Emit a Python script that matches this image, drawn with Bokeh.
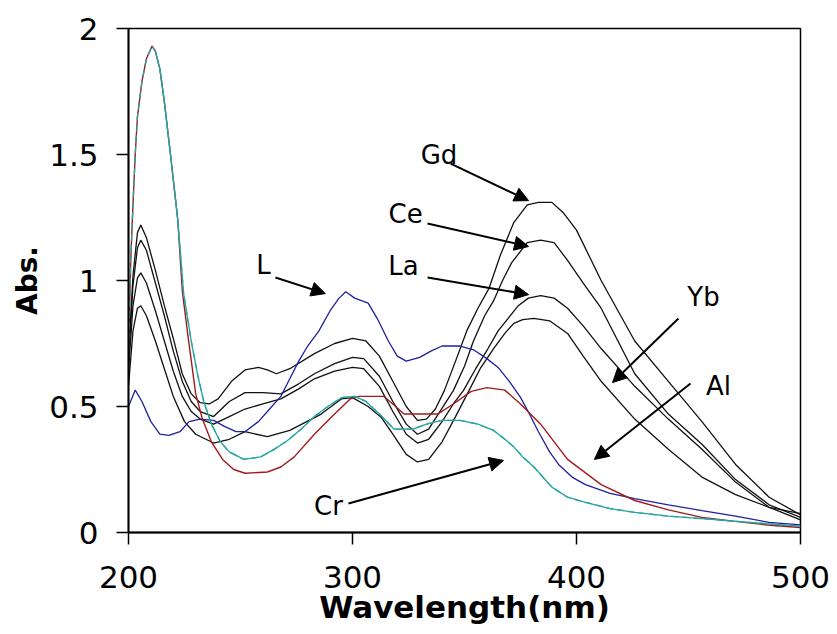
from bokeh.plotting import figure
from bokeh.models import Arrow, NormalHead, Label, FixedTicker
from bokeh.embed import file_html
from bokeh.resources import INLINE

# ---------------- data ----------------
gd_wl = [200, 202, 204, 205.5, 208, 212, 216, 220, 224, 228, 232, 236, 240, 246, 252, 258, 262, 266, 272, 283,
         292, 300, 306, 312, 318, 324, 329, 333, 337, 341, 346, 351, 356, 361, 366, 372, 378, 383, 389, 394,
         400, 411, 426, 441, 456, 471, 486, 500]
gd_abs = [0.70, 1.02, 1.19, 1.22, 1.17, 1.04, 0.90, 0.77, 0.63, 0.55, 0.515, 0.51, 0.53, 0.60, 0.645, 0.655, 0.645,
          0.63, 0.65, 0.71, 0.75, 0.77, 0.76, 0.70, 0.60, 0.50, 0.445, 0.45, 0.49, 0.563, 0.68, 0.80, 0.89, 0.97,
          1.10, 1.23, 1.30, 1.31, 1.31, 1.27, 1.20, 1.00, 0.76, 0.60, 0.44, 0.27, 0.14, 0.07]

ce_wl = [200, 202, 204, 205.5, 208, 212, 216, 220, 224, 228, 232, 238, 245, 252, 260, 268, 276, 283, 292, 300,
         305, 312, 318, 324, 329, 334, 339, 345, 350, 354, 359, 363, 367, 371, 378, 384, 390, 396, 403, 411,
         426, 441, 456, 471, 486, 500]
ce_abs = [0.68, 0.98, 1.13, 1.16, 1.12, 0.99, 0.86, 0.72, 0.60, 0.52, 0.48, 0.46, 0.52, 0.555, 0.555, 0.55, 0.59,
          0.63, 0.67, 0.695, 0.69, 0.62, 0.52, 0.43, 0.39, 0.41, 0.48, 0.563, 0.66, 0.76, 0.86, 0.92, 1.00, 1.07,
          1.15, 1.16, 1.15, 1.08, 0.99, 0.89, 0.63, 0.47, 0.35, 0.21, 0.11, 0.06]

la_wl = [200, 202, 204, 205.5, 208, 212, 216, 220, 224, 228, 232, 238, 245, 252, 260, 268, 276, 283, 292, 300,
         305, 312, 318, 324, 329, 334, 340, 345, 349.5, 355, 360.5, 365, 369.5, 374, 378.5, 384, 390, 396, 403,
         411, 426, 441, 456, 471, 486, 500]
la_abs = [0.64, 0.90, 1.01, 1.03, 0.99, 0.88, 0.76, 0.64, 0.54, 0.48, 0.45, 0.43, 0.46, 0.49, 0.51, 0.53, 0.57,
          0.61, 0.64, 0.655, 0.65, 0.58, 0.48, 0.39, 0.355, 0.37, 0.44, 0.51, 0.563, 0.65, 0.73, 0.80, 0.85, 0.90,
          0.93, 0.94, 0.93, 0.89, 0.82, 0.73, 0.58, 0.45, 0.33, 0.20, 0.10, 0.05]

yb_wl = [200, 202, 204, 205.5, 208, 212, 216, 220, 225, 230, 238, 245, 252, 262, 272, 286, 295, 300, 307, 313,
         318, 324, 329, 334, 340, 346, 352, 357, 363, 368, 372, 376, 381, 388, 396, 403, 411, 426, 441, 456,
         471, 486, 500]
yb_abs = [0.58, 0.80, 0.89, 0.90, 0.86, 0.76, 0.65, 0.54, 0.44, 0.39, 0.355, 0.37, 0.40, 0.38, 0.405, 0.47, 0.53,
          0.535, 0.50, 0.455, 0.39, 0.31, 0.28, 0.29, 0.36, 0.46, 0.563, 0.65, 0.73, 0.79, 0.83, 0.845, 0.85, 0.84,
          0.79, 0.70, 0.60, 0.45, 0.33, 0.22, 0.15, 0.10, 0.075]

l_wl = [200, 203, 206, 210, 214, 218, 223, 227, 232, 238, 243, 248, 252, 258, 263, 268, 272, 276, 280, 285, 290,
        294, 297, 301, 307, 311, 316, 320, 324, 330, 335, 340, 348, 354, 360, 365, 370, 375, 379, 383, 388, 392,
        398, 404, 415, 426, 441, 456, 471, 486, 500]
l_abs = [0.50, 0.565, 0.52, 0.44, 0.39, 0.385, 0.40, 0.44, 0.45, 0.445, 0.42, 0.40, 0.40, 0.44, 0.49, 0.54, 0.61,
         0.68, 0.74, 0.80, 0.88, 0.93, 0.955, 0.93, 0.91, 0.85, 0.76, 0.70, 0.68, 0.695, 0.72, 0.74, 0.74, 0.725,
         0.69, 0.655, 0.60, 0.536, 0.47, 0.40, 0.32, 0.27, 0.22, 0.19, 0.155, 0.134, 0.11, 0.087, 0.065, 0.04, 0.03]

al_wl = [200, 201, 202, 203, 204, 206, 208, 210.5, 212, 214, 216, 219, 222, 224, 226.4, 230, 233, 237, 242, 247,
         252, 262, 268, 274, 283, 292, 299, 303, 314, 318, 323, 338, 345, 353, 360, 368, 375, 384, 396, 411, 426,
         441, 456, 470, 485, 500]
al_abs = [0.72, 1.08, 1.30, 1.50, 1.65, 1.79, 1.88, 1.93, 1.91, 1.84, 1.71, 1.48, 1.24, 0.96, 0.79, 0.55, 0.45,
          0.36, 0.29, 0.25, 0.235, 0.24, 0.26, 0.30, 0.39, 0.47, 0.53, 0.54, 0.54, 0.51, 0.47, 0.47, 0.51, 0.56,
          0.575, 0.565, 0.51, 0.43, 0.29, 0.19, 0.127, 0.09, 0.06, 0.045, 0.03, 0.02]

cr_wl = [200, 201, 202, 203, 204, 206, 208, 210.5, 212, 214, 216, 219, 222, 224.6, 228, 231, 233.6, 237, 241, 245,
         251.5, 259, 265, 271, 277, 283, 289, 295, 301, 306, 312, 318.6, 327, 333, 340, 348, 356, 363, 368, 372,
         376, 381, 389, 396, 404, 415, 426, 441, 456, 470, 485, 500]
cr_abs = [0.72, 1.08, 1.30, 1.50, 1.65, 1.79, 1.88, 1.93, 1.91, 1.84, 1.71, 1.48, 1.24, 0.95, 0.76, 0.62, 0.52,
          0.43, 0.36, 0.32, 0.29, 0.30, 0.33, 0.365, 0.41, 0.46, 0.50, 0.535, 0.54, 0.52, 0.47, 0.41, 0.41, 0.43,
          0.445, 0.445, 0.43, 0.405, 0.37, 0.34, 0.30, 0.26, 0.18, 0.14, 0.12, 0.095, 0.08, 0.065, 0.055, 0.045,
          0.035, 0.025]

x_ticks = [200, 300, 400, 500]
y_ticks = [0, 0.5, 1, 1.5, 2]
y_tick_labels = ["0", "0.5", "1", "1.5", "2"]
x_title = "Wavelength(nm)"
y_title = "Abs."

# annotation labels: name, text position (wl, abs), arrow tail, arrow tip
labels = ["Gd", "Ce", "La", "L", "Yb", "Al", "Cr"]
label_wl = [338.6, 323.7, 322.8, 260.3, 456.7, 463.4, 289.3]
label_abs = [1.50, 1.262, 1.056, 1.06, 0.933, 0.583, 0.107]
tail_wl = [343.8, 333.5, 333.5, 265.6, 445.5, 450.9, 298.2]
tail_abs = [1.464, 1.226, 1.012, 1.012, 0.849, 0.591, 0.115]
tip_wl = [378.6, 378.6, 378.6, 287.9, 416.1, 408.0, 367.4]
tip_abs = [1.317, 1.135, 0.944, 0.948, 0.595, 0.290, 0.286]

# ---------------- figure ----------------
p = figure(frame_width=672, frame_height=504, x_range=(200, 500), y_range=(0, 2),
           output_backend="svg", toolbar_location=None,
           min_border_left=128, min_border_top=28, min_border_right=30, min_border_bottom=60)
p.background_fill_color = "white"
p.border_fill_color = "white"
p.outline_line_color = "black"
p.outline_line_width = 1.5
p.xgrid.visible = False
p.ygrid.visible = False

BLACK = "#111111"
for wl, ab in [(gd_wl, gd_abs), (ce_wl, ce_abs), (la_wl, la_abs), (yb_wl, yb_abs)]:
    p.line(wl, ab, line_color=BLACK, line_width=1.3)
p.line(l_wl, l_abs, line_color="#2020a0", line_width=1.3)
p.line(al_wl, al_abs, line_color="#a01c1c", line_width=1.4)
p.line(cr_wl, cr_abs, line_color="#26a4a4", line_width=1.3, line_dash="7 4")
p.line(cr_wl[8:], cr_abs[8:], line_color="#26a4a4", line_width=1.3)

# axes
for ax in (p.xaxis[0], p.yaxis[0]):
    ax.axis_line_color = "black"
    ax.axis_line_width = 1.8
    ax.major_tick_line_color = "black"
    ax.major_tick_line_width = 1.5
    ax.major_tick_out = 12
    ax.major_tick_in = 0
    ax.minor_tick_out = 0
    ax.minor_tick_in = 0
    ax.major_label_text_font = "DejaVu Sans"
    ax.major_label_text_font_size = "31px"
    ax.major_label_text_color = "black"
    ax.axis_label_text_color = "black"
    ax.axis_label_text_font_style = "bold"

p.xaxis.ticker = FixedTicker(ticks=x_ticks)
p.yaxis.ticker = FixedTicker(ticks=y_ticks)
p.yaxis.major_label_overrides = {t: s for t, s in zip(y_ticks, y_tick_labels)}
p.xaxis.major_label_standoff = 21
p.yaxis.major_label_standoff = 18

p.xaxis.axis_label = x_title
p.xaxis.axis_label_text_font = "DejaVu Sans"
p.xaxis.axis_label_text_font_size = "31px"
p.xaxis.axis_label_standoff = -2

p.yaxis.axis_label = y_title
p.yaxis.axis_label_text_font = "DejaVu Sans"
p.yaxis.axis_label_text_font_size = "28px"
p.yaxis.axis_label_standoff = 2

# annotations
for i, name in enumerate(labels):
    p.add_layout(Arrow(end=NormalHead(size=14, fill_color="black", line_color="black"),
                       x_start=tail_wl[i], y_start=tail_abs[i], x_end=tip_wl[i], y_end=tip_abs[i],
                       line_color="black", line_width=2))
    p.add_layout(Label(x=label_wl[i], y=label_abs[i], text=name, text_font="DejaVu Sans",
                       text_font_size="26px", text_color="black",
                       text_align="center", text_baseline="middle"))

open("out.html", "w").write(file_html(p, INLINE))
